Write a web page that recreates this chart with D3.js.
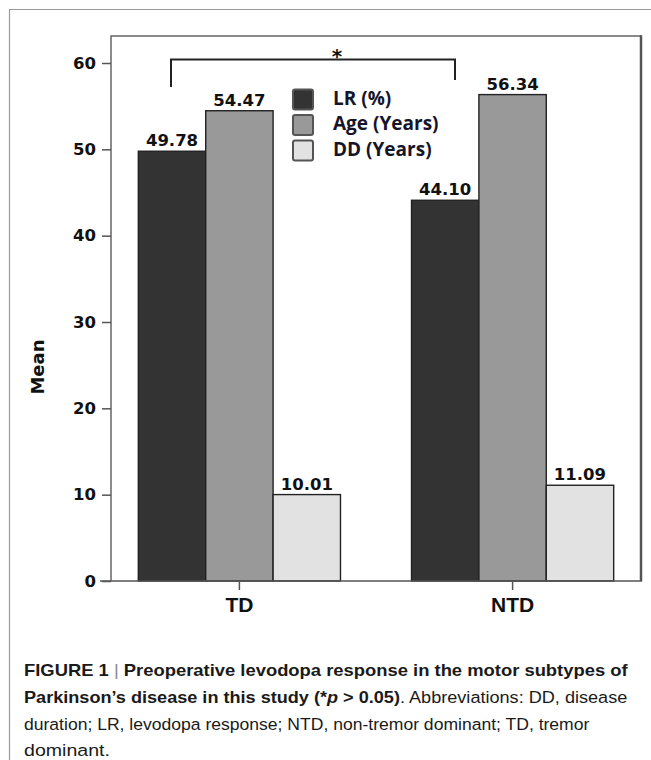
<!DOCTYPE html>
<html>
<head>
<meta charset="utf-8">
<title>Preoperative levodopa response</title>
<script src="https://d3js.org/d3.v7.min.js"></script>
<style>
  body { margin: 0; background: #fff; }
</style>
</head>
<body>
<div id="chart"></div>
<script>
// data
var groups = ["TD", "NTD"];
var seriesNames = ["LR (%)", "Age (Years)", "DD (Years)"];
var lrValues = [49.78, 44.10];
var ageValues = [54.47, 56.34];
var ddValues = [10.01, 11.09];
var yTicks = [0, 10, 20, 30, 40, 50, 60];
var barColors = ["#333333", "#999999", "#e2e2e2"];

var W = 651, H = 760;
var plot = {left: 111, right: 641, top: 36, bottom: 581};

var svg = d3.select("#chart").append("svg")
    .attr("width", W).attr("height", H);

// outer figure frame (top + left only)
svg.append("path")
    .attr("d", "M9.5," + H + "V9.5H" + W)
    .attr("fill", "none").attr("stroke", "#9a9a9a").attr("stroke-width", 1.2);

// scales
var y = d3.scaleLinear().domain([0, 60]).range([plot.bottom, 63]);
var x0 = d3.scaleBand().domain(groups).range([plot.left, plot.right])
    .paddingInner(0.26).paddingOuter(0.1);
var x1 = d3.scaleBand().domain(seriesNames).range([0, x0.bandwidth()]);

// plot box
svg.append("path")
    .attr("d", "M" + plot.left + "," + plot.bottom + "V" + plot.top + "H" + plot.right)
    .attr("fill", "none").attr("stroke", "#666").attr("stroke-width", 1.5);
svg.append("line")
    .attr("x1", plot.right).attr("x2", plot.right)
    .attr("y1", plot.top - 0.7).attr("y2", plot.bottom)
    .attr("stroke", "#555").attr("stroke-width", 2.5);

// table built from the arrays
var table = groups.map(function(g, i) {
  return {group: g, values: [lrValues[i], ageValues[i], ddValues[i]]};
});

var gGroups = svg.append("g").selectAll("g")
  .data(table).enter().append("g")
    .attr("transform", function(d) { return "translate(" + x0(d.group) + ",0)"; });

gGroups.selectAll("rect")
  .data(function(d) { return d.values.map(function(v, j) { return {key: seriesNames[j], value: v, j: j}; }); })
  .enter().append("rect")
    .attr("x", function(d) { return x1(d.key); })
    .attr("y", function(d) { return y(d.value); })
    .attr("width", x1.bandwidth())
    .attr("height", function(d) { return y(0) - y(d.value); })
    .attr("fill", function(d) { return barColors[d.j]; })
    .attr("stroke", "#222").attr("stroke-width", 1.4);

gGroups.selectAll("text")
  .data(function(d) { return d.values.map(function(v, j) { return {key: seriesNames[j], value: v}; }); })
  .enter().append("text")
    .attr("x", function(d) { return x1(d.key) + x1.bandwidth() / 2; })
    .attr("y", function(d) { return y(d.value) - 5; })
    .attr("text-anchor", "middle")
    .style("font-family", "DejaVu Sans")
    .style("font-weight", "bold")
    .style("font-size", "16.5px")
    .style("fill", "#111")
    .text(function(d) { return d.value.toFixed(2); });

// y axis
var yAxis = svg.append("g")
    .attr("transform", "translate(" + plot.left + ",0)")
    .call(d3.axisLeft(y).tickValues(yTicks).tickSize(9).tickSizeOuter(0).tickPadding(6));
yAxis.select(".domain").remove();
yAxis.selectAll(".tick line").attr("stroke", "#555").attr("stroke-width", 1.5);
yAxis.selectAll(".tick text")
    .style("font-family", "DejaVu Sans").style("font-weight", "bold")
    .style("font-size", "16.5px").style("fill", "#111");

// x axis
var xAxis = svg.append("g")
    .attr("transform", "translate(0," + plot.bottom + ")")
    .call(d3.axisBottom(x0).tickSize(9).tickSizeOuter(0));
xAxis.select(".domain").remove();
xAxis.selectAll(".tick line").attr("stroke", "#555").attr("stroke-width", 1.5);
xAxis.selectAll(".tick text")
    .attr("y", 31).attr("dy", 0)
    .style("font-family", "Liberation Sans").style("font-weight", "bold")
    .style("font-size", "21px").style("fill", "#111");
svg.append("line")
    .attr("x1", 100).attr("x2", plot.right + 1)
    .attr("y1", plot.bottom).attr("y2", plot.bottom)
    .attr("stroke", "#555").attr("stroke-width", 1.5);

// y label
svg.append("text")
    .attr("transform", "translate(44,367) rotate(-90)")
    .attr("text-anchor", "middle")
    .style("font-family", "DejaVu Sans").style("font-weight", "bold")
    .style("font-size", "18px").style("fill", "#111")
    .text("Mean");

// significance bracket
svg.append("path")
    .attr("d", "M171,87V59.5H455V80")
    .attr("fill", "none").attr("stroke", "#222").attr("stroke-width", 2);
svg.append("text")
    .attr("x", 337).attr("y", 63).attr("text-anchor", "middle")
    .style("font-family", "DejaVu Sans").style("font-weight", "bold")
    .style("font-size", "20px").style("fill", "#111")
    .text("*");

// legend
var legend = svg.append("g").selectAll("g")
  .data(seriesNames).enter().append("g")
    .attr("transform", function(d, i) { return "translate(293," + (89.5 + i * 25.5) + ")"; });
legend.append("rect")
    .attr("width", 20).attr("height", 20).attr("rx", 2)
    .attr("fill", function(d, i) { return barColors[i]; })
    .attr("stroke", "#555").attr("stroke-width", 2);
legend.append("text")
    .attr("x", 40).attr("y", 15)
    .style("font-family", "Open Sans").style("font-weight", "bold")
    .style("font-size", "19px").style("fill", "#15152a")
    .text(function(d) { return d; });

// caption
var capLines = [
  {w: 604, parts: [
    {t: "FIGURE 1", b: true}, {t: " | ", b: false, c: "#888"},
    {t: "Preoperative levodopa response in the motor subtypes of", b: true}]},
  {w: 604, parts: [
    {t: "Parkinson\u2019s disease in this study (*", b: true}, {t: "p", b: true, i: true},
    {t: " > 0.05)", b: true}, {t: ". Abbreviations: DD, disease", b: false}]},
  {w: 566, parts: [
    {t: "duration; LR, levodopa response; NTD, non-tremor dominant; TD, tremor", b: false}]},
  {w: 86, parts: [{t: "dominant.", b: false}]}
];
var capY = [676, 703, 730, 756];

capLines.forEach(function(line, k) {
  var t = svg.append("text")
      .attr("x", 0).attr("y", 0)
      .style("font-family", "Liberation Sans")
      .style("font-size", "17px").style("fill", "#1a1a1a");
  line.parts.forEach(function(p) {
    t.append("tspan")
      .style("font-weight", p.b ? "bold" : "normal")
      .style("font-style", p.i ? "italic" : "normal")
      .style("fill", p.c || null)
      .text(p.t);
  });
  var len = t.node().getComputedTextLength();
  t.attr("transform", "translate(24," + capY[k] + ") scale(" + (line.w / len) + ",1)");
});
</script>
</body>
</html>
